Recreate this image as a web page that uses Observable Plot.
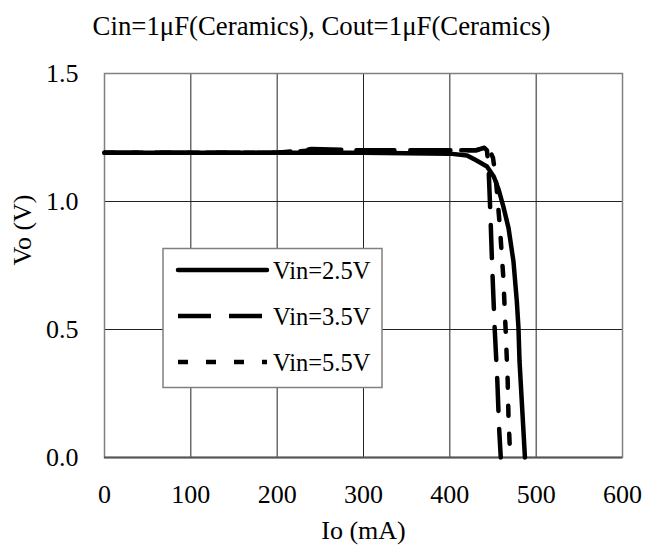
<!DOCTYPE html>
<html>
<head>
<meta charset="utf-8">
<script src="https://cdn.jsdelivr.net/npm/d3@7"></script>
<script src="https://cdn.jsdelivr.net/npm/@observablehq/plot@0.6"></script>
<style>
  html, body { margin: 0; padding: 0; background: #fff; }
  svg text { font-family: "Liberation Serif", "DejaVu Serif", serif !important; font-variant-numeric: normal !important; }
</style>
</head>
<body>
<div id="chart"></div>
<script>
// ---- data ----
const titleText = "Cin=1\u03bcF(Ceramics), Cout=1\u03bcF(Ceramics)";
const xLabel = "Io (mA)";
const yLabel = "Vo (V)";
const xTicks = [0, 100, 200, 300, 400, 500, 600];
const yTicks = [0.0, 0.5, 1.0, 1.5];
const seriesNames = ["Vin=2.5V", "Vin=3.5V", "Vin=5.5V"];

const io25 = [0, 100, 200, 300, 400, 420, 431, 443, 451, 456.6, 462, 468, 473.7, 477.6, 479.5, 480.7, 484, 487];
const vo25 = [1.19, 1.19, 1.19, 1.19, 1.187, 1.18, 1.16, 1.137, 1.097, 1.046, 0.98, 0.896, 0.766, 0.61, 0.506, 0.377, 0.18, 0.0];

const io35 = [0, 100, 200, 240, 300, 400, 430, 440, 443, 445, 447, 449, 452, 455, 457, 459];
const vo35 = [1.19, 1.19, 1.19, 1.205, 1.2, 1.2, 1.2, 1.21, 1.2, 1.12, 0.95, 0.75, 0.5, 0.3, 0.12, 0.0];

const io55 = [0, 100, 200, 240, 300, 400, 430, 445, 450, 453, 458, 462, 465, 467, 468, 470];
const vo55 = [1.19, 1.19, 1.19, 1.2, 1.2, 1.2, 1.2, 1.21, 1.17, 1.1, 0.9, 0.7, 0.47, 0.3, 0.15, 0.0];

// ---- styles ----
const dashes = [null, "33,18", "10,18"];
const lineWidth = 4.5;
const fontFamily = "Liberation Serif";
const fs = 26;

const seriesData = [[io25, vo25], [io35, vo35], [io55, vo55]].map(([xs, ys], k) =>
  xs.map((x, i) => ({ x, y: ys[i], s: seriesNames[k] }))
);

const W = 645, H = 549;
const mL = 104, mR = 23, mT = 73, mB = 92;

const chart = Plot.plot({
  width: W,
  height: H,
  marginLeft: mL,
  marginRight: mR,
  marginTop: mT,
  marginBottom: mB,
  style: { fontFamily, fontSize: fs + "px", color: "#000", background: "#fff" },
  x: { domain: [0, 600], ticks: xTicks },
  y: { domain: [0, 1.5], ticks: yTicks },
  marks: [
    Plot.gridX(xTicks, { stroke: "#222", strokeOpacity: 1, strokeWidth: 1 }),
    Plot.gridY(yTicks, { stroke: "#222", strokeOpacity: 1, strokeWidth: 1 }),
    Plot.frame({ stroke: "#808080", strokeWidth: 1.5 }),
    Plot.ruleY([0], { stroke: "#555", strokeWidth: 2 }),
    ...seriesData.map((d, k) => Plot.line(d, {
      x: "x", y: "y", stroke: "#000", strokeWidth: lineWidth,
      strokeDasharray: dashes[k] ?? undefined, curve: "linear"
    })),
    Plot.axisX(xTicks, { tickSize: 0, tickPadding: 27, tickFormat: d => String(d), label: null, fontSize: fs, fontFamily, fontVariant: "normal" }),
    Plot.axisY(yTicks, { tickSize: 0, tickPadding: 26, tickFormat: d => d.toFixed(1), label: null, fontSize: fs, fontFamily, fontVariant: "normal" }),
    Plot.text([titleText], { text: d => d, frameAnchor: "top", lineAnchor: "middle", dy: -47, dx: -42, fontSize: 26.8, fontFamily }),
    Plot.text([xLabel], { text: d => d, frameAnchor: "bottom", lineAnchor: "middle", dy: 73, fontSize: fs, fontFamily }),
    Plot.text([yLabel], { text: d => d, frameAnchor: "left", dx: -82, rotate: -90, fontSize: fs, fontFamily })
  ]
});

document.getElementById("chart").appendChild(chart);

// ---- legend ----
const svg = d3.select(chart);
const lg = svg.append("g")
  .attr("font-family", fontFamily)
  .attr("font-size", 24.5)
  .attr("text-anchor", "start");
lg.append("rect")
  .attr("x", 163).attr("y", 248.5).attr("width", 219).attr("height", 139)
  .attr("fill", "#fff").attr("stroke", "#808080").attr("stroke-width", 1.5);
seriesNames.forEach((name, k) => {
  const yy = 270 + k * 46;
  lg.append("line")
    .attr("x1", 178).attr("x2", 267).attr("y1", yy).attr("y2", yy)
    .attr("stroke", "#000").attr("stroke-width", lineWidth)
    .attr("stroke-linecap", k === 0 ? "round" : "butt")
    .attr("stroke-dasharray", dashes[k]);
  lg.append("text")
    .attr("x", 273).attr("y", yy + 8.5)
    .attr("fill", "#000")
    .attr("text-anchor", "start")
    .text(name);
});
</script>
</body>
</html>
